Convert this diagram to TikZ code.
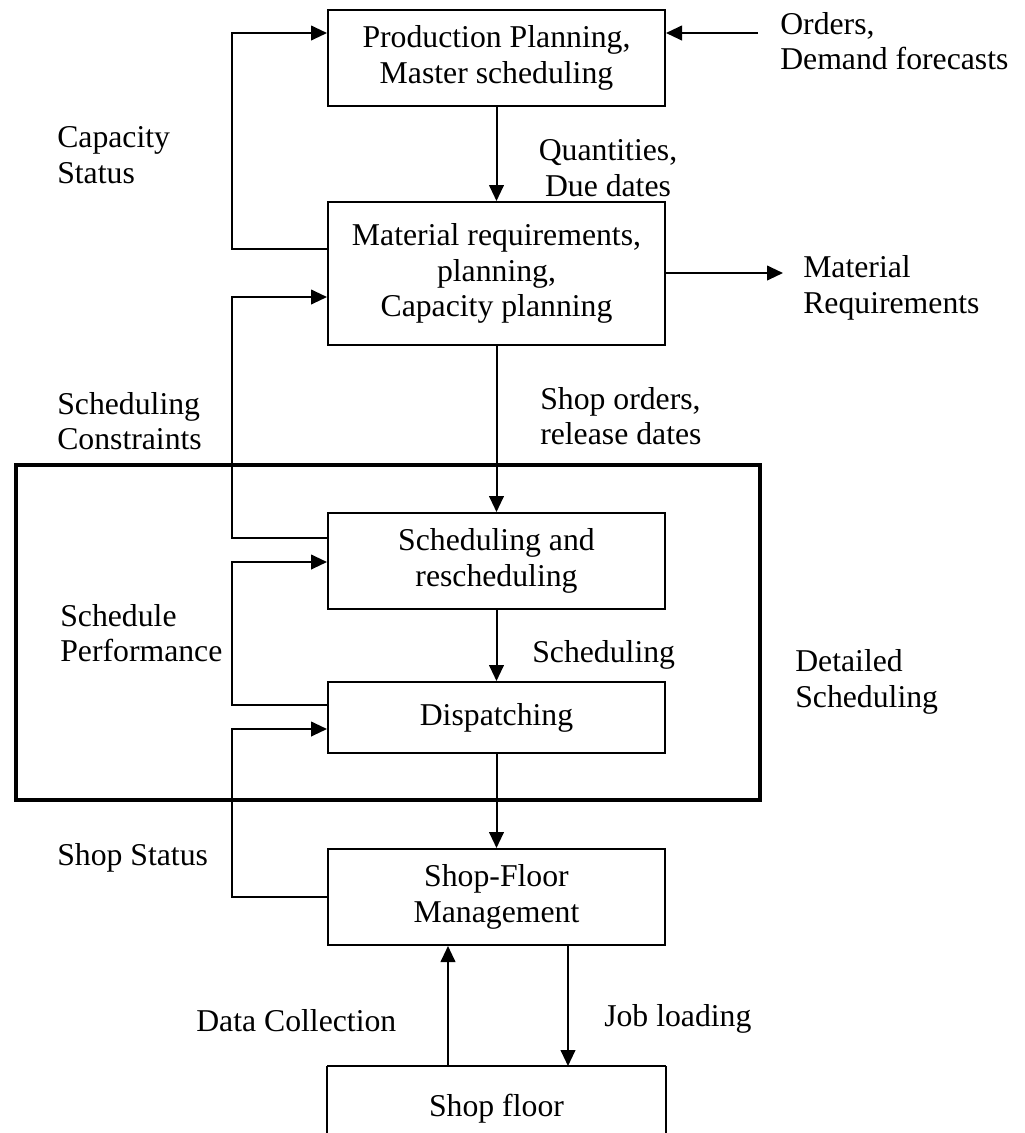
\documentclass[tikz,border=0pt]{standalone}
\usepackage{fontspec}
\setmainfont{Liberation Serif}
\usetikzlibrary{arrows.meta}
\begin{document}
\begin{tikzpicture}[x=0.75pt,y=-0.75pt,
  every node/.style={font=\fontsize{23.8}{26.5}\selectfont},
  box/.style={draw,line width=1.5pt,minimum width=252.75pt,inner sep=0pt,align=center},
  lbl/.style={anchor=west,align=left,inner sep=0pt},
  lblc/.style={align=center,inner sep=0pt},
  conn/.style={line width=1.5pt},
  arr/.style={line width=1.5pt,-{Triangle[length=12pt,width=11pt]}}]
\useasboundingbox (0,0) rectangle (1025,1133);
\clip (0,0) rectangle (1025,1133);
% boxes
\node[box,minimum height=72pt] (top) at (496.5,58) {Production Planning,\\Master scheduling};
\node[box,minimum height=107.25pt] (mrp) at (496.5,273.5) {Material requirements,\\planning,\\Capacity planning};
\node[box,minimum height=72pt] (sched) at (496.5,561) {Scheduling and\\rescheduling};
\node[box,minimum height=53.25pt] (disp) at (496.5,717.5) {Dispatching};
\node[box,minimum height=72pt] (sfm) at (496.5,897) {Shop-Floor\\Management};
\node[box,draw=none,minimum height=62pt,anchor=north] (sf) at (496.5,1066) {Shop floor};
\draw[conn] (sf.north west) -- (sf.north east);
\draw[conn] (sf.north west) -- ++(0,120);
\draw[conn] (sf.north east) -- ++(0,120);
% detailed scheduling frame
\node[draw,line width=3pt,minimum width=558pt,minimum height=251.25pt,inner sep=0pt] (frame) at (388,632.5) {};
% coordinates
\coordinate (lx) at (232,0);
\coordinate (ordin) at (758,33);
\coordinate (matout) at (783,273);
% vertical flow
\draw[arr] (top.south) -- (mrp.north);
\draw[arr] (mrp.south) -- (sched.north);
\draw[arr] (sched.south) -- (disp.north);
\draw[arr] (disp.south) -- (sfm.north);
\draw[arr] (sf.north -| 448,0) -- (sfm.south -| 448,0);
\draw[arr] (sfm.south -| 568,0) -- (sf.north -| 568,0);
% side arrows
\draw[arr] (ordin) -- (top.east |- ordin);
\draw[arr] (mrp.east |- matout) -- (matout);
% feedback loops
\draw[arr] (mrp.west |- 0,249) -- (lx |- 0,249) -- (lx |- 0,33) -- (top.west |- 0,33);
\draw[arr] (sched.west |- 0,538) -- (lx |- 0,538) -- (lx |- 0,297) -- (mrp.west |- 0,297);
\draw[arr] (disp.west |- 0,705) -- (lx |- 0,705) -- (lx |- 0,562) -- (sched.west |- 0,562);
\draw[arr] (sfm.west |- 0,897) -- (lx |- 0,897) -- (lx |- 0,729) -- (disp.west |- 0,729);
% labels
\node[lbl] (l1) at (780,41) {Orders,\\Demand forecasts};
\node[lbl] (l2) at (57,155) {Capacity\\Status};
\node[lblc] (l3) at (608,168) {Quantities,\\Due dates};
\node[lbl] (l4) at (803,288) {Material\\Requirements};
\node[lbl] (l5) at (57,421) {Scheduling\\Constraints};
\node[lbl] (l6) at (540,416) {Shop orders,\\release dates};
\node[lbl] (l7) at (60,633) {Schedule\\Performance};
\node[lbl] (l8) at (532,655) {Scheduling};
\node[lbl] (l9) at (795,682) {Detailed\\Scheduling};
\node[lbl] (l10) at (57,858) {Shop Status};
\node[lbl] (l11) at (196,1021) {Data Collection};
\node[lbl] (l12) at (604,1019) {Job loading};
\end{tikzpicture}
\end{document}
